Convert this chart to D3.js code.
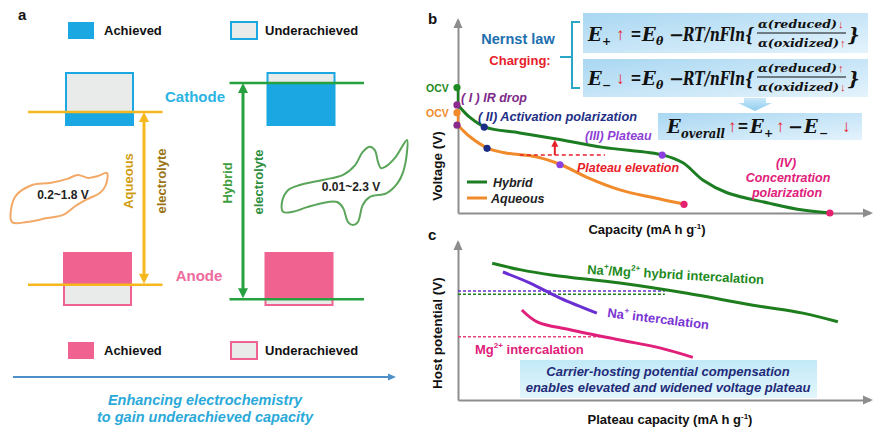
<!DOCTYPE html>
<html>
<head>
<meta charset="utf-8">
<script src="https://cdn.jsdelivr.net/npm/d3@7"></script>
<style>
  body { margin: 0; background: #fff; }
  svg { display: block; }
  text { font-family: Arial, "Liberation Sans", sans-serif; font-weight: bold; }
</style>
</head>
<body>
<script>
// ---- panel a : electrode levels (schematic potential units) ----
const electrolytes = ["Aqueous", "Hybrid"]
const cathodeLevel = [2.0, 2.28]
const anodeLevel = [0.34, 0.2]
const cvWindow = ["0.2~1.8 V", "0.01~2.3 V"]
// CV loops, [potential V, normalised current]
const aqueousCV = [[0.20,-1.0],[0.25,0.02],[0.54,0.51],[0.84,0.59],[1.13,0.76],[1.31,0.92],[1.48,0.80],[1.65,0.88],[1.80,1.0],[1.78,0.51],[1.68,0.18],[1.51,-0.02],[1.29,-0.31],[1.06,-0.71],[0.79,-0.84],[0.45,-1.0]]
const hybridCV = [[0.03,-0.69],[0.01,-0.46],[0.12,-0.18],[0.34,-0.06],[0.76,0.06],[1.13,0.18],[1.35,0.41],[1.49,0.72],[1.62,0.84],[1.71,0.76],[1.77,0.48],[1.82,0.34],[1.89,0.36],[2.08,0.58],[2.30,1.0],[2.30,0.72],[2.23,0.25],[2.13,-0.01],[1.93,-0.25],[1.62,-0.34],[1.49,-0.53],[1.40,-0.93],[1.31,-1.0],[1.22,-0.93],[1.13,-0.60],[1.02,-0.46],[0.76,-0.48],[0.47,-0.58],[0.21,-0.69]]

// ---- panel b : charge curves ----
const hybridCap = [0, 2.9, 6.6, 15.0, 23.5, 35.2, 49.8, 54.6, 59.5, 65.3, 75.7, 83.7, 90.5]
const hybridV   = [1.12, 0.99, 0.89, 0.83, 0.77, 0.68, 0.60, 0.52, 0.34, 0.21, 0.10, 0.03, 0.0]
const aqueousCap = [0, 2.9, 7.3, 11.9, 19.2, 25.0, 31.3, 39.3, 47.3, 55.1]
const aqueousV   = [0.91, 0.79, 0.67, 0.62, 0.58, 0.50, 0.37, 0.24, 0.16, 0.09]
const ocvV = [1.30, 1.04]
const plateauBase = 0.60, plateauFrom = 15.0, plateauTo = 35.7
const elevationCap = 23.5, elevationTop = 0.76

// ---- panel c : host potential ----
const hostHybridCap = [8.3, 15.0, 23.1, 39.3, 55.6, 71.6, 83.7, 92.2]
const hostHybridV   = [1.73, 1.65, 1.58, 1.48, 1.35, 1.20, 1.10, 0.99]
const hostNaCap = [10.9, 17.5, 24.8, 33.7]
const hostNaV   = [1.62, 1.48, 1.29, 1.10]
const hostMgCap = [15.5, 19.2, 27.2, 39.3, 49.0, 57.0]
const hostMgV   = [1.14, 0.99, 0.89, 0.76, 0.66, 0.54]
const hostRefV   = [1.38, 1.34, 0.80]   // Na+, hybrid, Mg2+ dashed levels
const hostRefEnd = [50.2, 50.2, 34.5]

const zip2 = (a, b) => a.map((d, i) => [d, b[i]])

const cyan = "#1ba7e1", pink = "#f0628f", grey = "#e9ebea"
const gold = "#f6b81e", green = "#27a040", axisGrey = "#8d8d8d"
const red = "#e8202a"

const svg = d3.select("body").append("svg").attr("width", 880).attr("height", 435)
const defs = svg.append("defs")

function grad(id, c1, c2, x2, y2) {
    const g = defs.append("linearGradient").attr("id", id)
        .attr("x1", 0).attr("y1", 0).attr("x2", x2).attr("y2", y2)
    g.append("stop").attr("offset", "0%").attr("stop-color", c1)
    g.append("stop").attr("offset", "100%").attr("stop-color", c2)
}
grad("eqFill", "#a9d7f2", "#e4f3fc", 1, 1)
grad("boxC", "#c2e9f7", "#e3f6fc", 0, 1)
grad("chev", "#c9e8f8", "#8fcdef", 0, 1)

function txt(parent, x, y, s, o = {}) {
    const t = parent.append("text").attr("x", x).attr("y", y)
        .attr("font-size", o.size || 13)
        .attr("fill", o.fill || "#111")
        .attr("text-anchor", o.anchor || "start")
        .text(s)
    if (o.italic) t.style("font-style", "italic")
    if (o.family) t.style("font-family", o.family)
    if (o.len) t.attr("textLength", o.len).attr("lengthAdjust", "spacingAndGlyphs")
    if (o.rotate != null) t.attr("transform", `rotate(${o.rotate},${x},${y})`)
    if (o.baseline) t.attr("dominant-baseline", o.baseline)
    return t
}

function arrowHead(parent, x, y, dir, w, l, color) {
    // dir: "up" | "down" | "right"
    let pts
    if (dir === "up") pts = [[x, y], [x - w / 2, y + l], [x + w / 2, y + l]]
    else if (dir === "down") pts = [[x, y], [x - w / 2, y - l], [x + w / 2, y - l]]
    else pts = [[x, y], [x - l, y - w / 2], [x - l, y + w / 2]]
    parent.append("path").attr("d", d3.line()(pts) + "Z").attr("fill", color)
}

/* ================= panel a ================= */
const pa = svg.append("g")
txt(pa, 18, 20, "a", { size: 15 })

const colX = d3.scalePoint().domain(electrolytes).range([99.5, 301])
const yPot = d3.scaleLinear().domain([0, 2.5]).range([320, 60])
const boxW = 67
const cathTop = 73, cathBot = 125, anTop = 253, anBot = 305
const levelColor = [gold, green]
const arrowX = [144, 243]

// legends
const legTop = [{ y: 22, stroke: cyan, fill: cyan }, { y: 22, stroke: cyan, fill: grey }]
const legBot = [{ y: 342, stroke: pink, fill: pink }, { y: 342, stroke: pink, fill: grey }]
;[legTop, legBot].forEach(leg => {
    leg.forEach((d, i) => {
        const x = i === 0 ? 68 : 231
        pa.append("rect").attr("x", x).attr("y", d.y).attr("width", 26).attr("height", 17)
            .attr("fill", d.fill).attr("stroke", d.stroke).attr("stroke-width", i === 0 ? 0 : 2)
        txt(pa, i === 0 ? 104 : 265, d.y + 13, i === 0 ? "Achieved" : "Underachieved", { size: 13 })
    })
})

electrolytes.forEach((e, i) => {
    const cx = colX(e)
    const cl = yPot(cathodeLevel[i]), al = yPot(anodeLevel[i])
    const ax = cx - 2
    // cathode box
    pa.append("rect").attr("x", cx - boxW / 2).attr("y", cathTop).attr("width", boxW)
        .attr("height", cathBot - cathTop).attr("fill", grey).attr("stroke", cyan).attr("stroke-width", 2)
    pa.append("rect").attr("x", cx - boxW / 2).attr("y", cl).attr("width", boxW)
        .attr("height", cathBot - cl).attr("fill", cyan)
    // anode box
    pa.append("rect").attr("x", ax - boxW / 2).attr("y", anTop).attr("width", boxW)
        .attr("height", anBot - anTop).attr("fill", grey).attr("stroke", pink).attr("stroke-width", 2)
    pa.append("rect").attr("x", ax - boxW / 2).attr("y", anTop).attr("width", boxW)
        .attr("height", al - anTop).attr("fill", pink)
    // level lines
    pa.append("line").attr("x1", cx - 71.5).attr("x2", cx + 63).attr("y1", cl).attr("y2", cl)
        .attr("stroke", levelColor[i]).attr("stroke-width", 2.5)
    pa.append("line").attr("x1", cx - 71.5).attr("x2", cx + 63).attr("y1", al).attr("y2", al)
        .attr("stroke", levelColor[i]).attr("stroke-width", 2.5)
    // double arrow
    const x = arrowX[i]
    pa.append("line").attr("x1", x).attr("x2", x).attr("y1", cl + 8).attr("y2", al - 8)
        .attr("stroke", levelColor[i]).attr("stroke-width", 3)
    arrowHead(pa, x, cl, "up", 10, 10, levelColor[i])
    arrowHead(pa, x, al - 1, "down", 10, 10, levelColor[i])
})

txt(pa, 195, 102, "Cathode", { size: 15, fill: "#2bb3e3", anchor: "middle" })
txt(pa, 199, 281, "Anode", { size: 15, fill: "#ee6a9c", anchor: "middle" })

txt(pa, 128, 181, "Aqueous", { size: 13, fill: "#cf9d12", anchor: "middle", rotate: -90, baseline: "central" })
txt(pa, 161, 181, "electrolyte", { size: 13, fill: "#9a7414", anchor: "middle", rotate: -90, baseline: "central" })
txt(pa, 227, 183, "Hybrid", { size: 13, fill: "#3f9e3f", anchor: "middle", rotate: -90, baseline: "central" })
txt(pa, 258, 182, "electrolyte", { size: 13, fill: "#2f8f3f", anchor: "middle", rotate: -90, baseline: "central" })

// CV loops
const cvX = [d3.scaleLinear().domain([0.2, 1.8]).range([12, 107]),
             d3.scaleLinear().domain([0.01, 2.3]).range([282, 407])]
const cvY = [d3.scaleLinear().domain([-1, 1]).range([222, 173]),
             d3.scaleLinear().domain([-1, 1]).range([225, 140])]
const cvColor = ["#f2a968", "#5aa55a"]
;[aqueousCV, hybridCV].forEach((loop, i) => {
    const line = d3.line().x(d => cvX[i](d[0])).y(d => cvY[i](d[1])).curve(d3.curveCatmullRomClosed.alpha(0.5))
    pa.append("path").attr("d", line(loop)).attr("fill", "none")
        .attr("stroke", cvColor[i]).attr("stroke-width", 2)
})
txt(pa, 63, 199, cvWindow[0], { size: 12, anchor: "middle", fill: "#222" })
txt(pa, 351, 191, cvWindow[1], { size: 12, anchor: "middle", fill: "#222" })

// bottom arrow + caption
pa.append("line").attr("x1", 13).attr("x2", 389).attr("y1", 377).attr("y2", 377)
    .attr("stroke", "#4d90c8").attr("stroke-width", 2)
arrowHead(pa, 396, 377, "right", 7, 8, "#4d90c8")
txt(pa, 205, 405, "Enhancing electrochemistry", { size: 14.5, italic: true, fill: "#2aa9d9", anchor: "middle" })
txt(pa, 205, 422, "to gain underachieved capacity", { size: 14.5, italic: true, fill: "#2aa9d9", anchor: "middle" })

/* ================= panel b ================= */
const pb = svg.append("g")
txt(pb, 428, 24, "b", { size: 15 })
const xB = d3.scaleLinear().domain([0, 100]).range([458, 870])
const yB = d3.scaleLinear().domain([0, 2]).range([213, 20])

pb.append("g").attr("transform", `translate(0,${yB(0)})`)
    .call(d3.axisBottom(xB).tickValues([]).tickSizeOuter(0))
    .call(g => g.select(".domain").attr("stroke", axisGrey).attr("stroke-width", 2))
pb.append("g").attr("transform", `translate(${xB(0)},0)`)
    .call(d3.axisLeft(yB).tickValues([]).tickSizeOuter(0))
    .call(g => g.select(".domain").attr("stroke", axisGrey).attr("stroke-width", 2))
arrowHead(pb, xB(0), yB(2) - 2, "up", 9, 10, axisGrey)
arrowHead(pb, xB(100) + 3, yB(0), "right", 9, 10, axisGrey)

txt(pb, 437, 166, "Voltage (V)", { size: 13.5, anchor: "middle", rotate: -90, baseline: "central" })
const capB = txt(pb, 647, 234, "Capacity (mA h g", { size: 13, anchor: "middle" })
capB.append("tspan").attr("font-size", 8).attr("dy", -5).text("-1")
capB.append("tspan").attr("dy", 5).text(")")

const curveB = d3.line().x(d => xB(d[0])).y(d => yB(d[1])).curve(d3.curveCatmullRom.alpha(0.5))
const hyb = zip2(hybridCap, hybridV), aq = zip2(aqueousCap, aqueousV)
const greenB = "#1d7d22", orangeB = "#f08a2a"

// IR drop segments
pb.append("line").attr("x1", xB(0)).attr("x2", xB(0)).attr("y1", yB(ocvV[0])).attr("y2", yB(hybridV[0]))
    .attr("stroke", greenB).attr("stroke-width", 2.5)
pb.append("line").attr("x1", xB(0)).attr("x2", xB(0)).attr("y1", yB(ocvV[1])).attr("y2", yB(aqueousV[0]))
    .attr("stroke", orangeB).attr("stroke-width", 2.5)

pb.append("path").attr("d", curveB(aq)).attr("fill", "none").attr("stroke", orangeB).attr("stroke-width", 3)
pb.append("path").attr("d", curveB(hyb)).attr("fill", "none").attr("stroke", greenB).attr("stroke-width", 3)

// plateau elevation marker
pb.append("line").attr("x1", xB(plateauFrom)).attr("x2", xB(plateauTo))
    .attr("y1", yB(plateauBase)).attr("y2", yB(plateauBase))
    .attr("stroke", red).attr("stroke-width", 1.5).attr("stroke-dasharray", "4,3")
pb.append("line").attr("x1", xB(elevationCap)).attr("x2", xB(elevationCap))
    .attr("y1", yB(plateauBase)).attr("y2", yB(elevationTop) + 6)
    .attr("stroke", red).attr("stroke-width", 2)
arrowHead(pb, xB(elevationCap), yB(elevationTop), "up", 7, 7, red)

// dots
const dotData = [
    [0, ocvV[0], "#1e8a22"], [0, ocvV[1], orangeB],
    [hybridCap[0], hybridV[0], "#8a2a8c"], [aqueousCap[0], aqueousV[0], "#8a2a8c"],
    [hybridCap[2], hybridV[2], "#1b2c86"], [aqueousCap[2], aqueousV[2], "#1b2c86"],
    [hybridCap[6], hybridV[6], "#8c3fe0"], [aqueousCap[5], aqueousV[5], "#8c3fe0"],
    [hybridCap[12], hybridV[12], "#e5206e"], [aqueousCap[9], aqueousV[9], "#e5206e"]
]
pb.selectAll(".dot").data(dotData).join("circle")
    .attr("cx", d => xB(d[0]) - 1).attr("cy", d => yB(d[1])).attr("r", 3.6).attr("fill", d => d[2])

txt(pb, 426, 92, "OCV", { size: 10.5, fill: "#1e8a22" })
txt(pb, 426, 117, "OCV", { size: 10.5, fill: "#f08a2a" })

txt(pb, 461, 102, "( I ) IR drop", { size: 12.5, italic: true, fill: "#7d2a8a" })
txt(pb, 478, 121, "( II) Activation polarization", { size: 12.5, italic: true, fill: "#1e2f86", len: 159 })
txt(pb, 585, 140, "(III) Plateau", { size: 12.5, italic: true, fill: "#8e3fd6" })
txt(pb, 577, 172, "Plateau elevation", { size: 12.5, italic: true, fill: red })
txt(pb, 786, 167, "(IV)", { size: 12.5, italic: true, fill: "#e0207a", anchor: "middle" })
txt(pb, 788, 182, "Concentration", { size: 12.5, italic: true, fill: "#e0207a", anchor: "middle" })
txt(pb, 787, 197, "polarization", { size: 12.5, italic: true, fill: "#e0207a", anchor: "middle" })

// legend
pb.append("line").attr("x1", 467).attr("x2", 487).attr("y1", 182).attr("y2", 182).attr("stroke", greenB).attr("stroke-width", 3)
pb.append("line").attr("x1", 467).attr("x2", 487).attr("y1", 198).attr("y2", 198).attr("stroke", orangeB).attr("stroke-width", 3)
txt(pb, 493, 187, "Hybrid", { size: 12.5, italic: true, fill: "#222" })
txt(pb, 491, 203, "Aqueous", { size: 12.5, italic: true, fill: "#222" })

// Nernst law block
txt(pb, 518, 44, "Nernst law", { size: 14.5, fill: "#1d6fae", anchor: "middle" })
txt(pb, 520, 65, "Charging:", { size: 13, fill: red, anchor: "middle" })
pb.append("path").attr("d", "M580,22 H572 V88 H580 M572,57 H560")
    .attr("fill", "none").attr("stroke", "#2aa6c6").attr("stroke-width", 2)

pb.append("rect").attr("x", 583).attr("y", 13).attr("width", 285).attr("height", 40).attr("fill", "url(#eqFill)")
pb.append("rect").attr("x", 583).attr("y", 59).attr("width", 285).attr("height", 38).attr("fill", "url(#eqFill)")
pb.append("rect").attr("x", 658).attr("y", 113).attr("width", 204).attr("height", 27).attr("fill", "url(#eqFill)")
pb.append("path").attr("d", "M744,98 H766 V103 H772 L755,111 L738,103 H744 Z").attr("fill", "url(#chev)")

const serif = "'DejaVu Serif', serif"
function nernst(base, sub, arrowMain, arrowNum, arrowDen) {
    const m = { size: 18, italic: true, family: serif }
    txt(pb, 588, base, "E", m)
    txt(pb, 602, base + 4, sub, { size: 11, family: serif })
    txt(pb, 616, base - 1, arrowMain, { size: 17, fill: red })
    txt(pb, 631, base - 1, "=", { size: 17 })
    txt(pb, 642, base, "E", m)
    txt(pb, 656, base + 4, "θ", { size: 11, italic: true, family: serif })
    txt(pb, 669, base, "−", { size: 18, family: serif })
    txt(pb, 683, base, "RT/nFln{", Object.assign({ len: 71 }, m))
    txt(pb, 758, base - 13, "α(reduced)", { size: 11, italic: true, family: serif, len: 79 })
    txt(pb, 838, base - 13, arrowNum, { size: 11, fill: red })
    pb.append("line").attr("x1", 757).attr("x2", 846).attr("y1", base - 8).attr("y2", base - 8)
        .attr("stroke", "#111").attr("stroke-width", 1)
    txt(pb, 758, base + 6, "α(oxidized)", { size: 11, italic: true, family: serif, len: 81 })
    txt(pb, 840, base + 6, arrowDen, { size: 11, fill: red })
    txt(pb, 848, base, "}", m)
}
nernst(41, "+", "↑", "↓", "↑")
nernst(85, "−", "↓", "↑", "↓")

// E overall
const m3 = { size: 18, italic: true, family: serif }
txt(pb, 667, 133, "E", m3)
txt(pb, 681, 138, "overall", { size: 12.5, italic: true, family: serif, len: 44 })
txt(pb, 728, 132, "↑", { size: 17, fill: red })
txt(pb, 738, 132, "=", { size: 17 })
txt(pb, 750, 133, "E", m3)
txt(pb, 764, 137, "+", { size: 11, family: serif })
txt(pb, 776, 132, "↑", { size: 17, fill: red })
txt(pb, 788, 133, "−", { size: 18, family: serif })
txt(pb, 804, 133, "E", m3)
txt(pb, 819, 137, "−", { size: 11, family: serif })
txt(pb, 842, 132, "↓", { size: 17, fill: red })

/* ================= panel c ================= */
const pc = svg.append("g")
txt(pc, 428, 240, "c", { size: 15 })
const xC = d3.scaleLinear().domain([0, 100]).range([458, 870])
const yC = d3.scaleLinear().domain([0, 2]).range([400, 242])

pc.append("g").attr("transform", `translate(0,${yC(0)})`)
    .call(d3.axisBottom(xC).tickValues([]).tickSizeOuter(0))
    .call(g => g.select(".domain").attr("stroke", axisGrey).attr("stroke-width", 2))
pc.append("g").attr("transform", `translate(${xC(0)},0)`)
    .call(d3.axisLeft(yC).tickValues([]).tickSizeOuter(0))
    .call(g => g.select(".domain").attr("stroke", axisGrey).attr("stroke-width", 2))
arrowHead(pc, xC(0), yC(2) - 2, "up", 9, 10, axisGrey)
arrowHead(pc, xC(100) + 3, yC(0), "right", 9, 10, axisGrey)

txt(pc, 437, 333, "Host potential (V)", { size: 13.5, anchor: "middle", rotate: -90, baseline: "central" })
const capC = txt(pc, 670, 424, "Plateau capacity (mA h g", { size: 13, anchor: "middle" })
capC.append("tspan").attr("font-size", 8).attr("dy", -5).text("-1")
capC.append("tspan").attr("dy", 5).text(")")

const refColor = ["#6a2fd2", "#1f7f1f", "#e8407c"]
hostRefV.forEach((v, i) => {
    pc.append("line").attr("x1", xC(0)).attr("x2", xC(hostRefEnd[i]))
        .attr("y1", yC(v)).attr("y2", yC(v))
        .attr("stroke", refColor[i]).attr("stroke-width", 1.5).attr("stroke-dasharray", "3,2")
})

const curveC = d3.line().x(d => xC(d[0])).y(d => yC(d[1])).curve(d3.curveCatmullRom.alpha(0.5))
pc.append("path").attr("d", curveC(zip2(hostHybridCap, hostHybridV))).attr("fill", "none")
    .attr("stroke", "#1e7e1e").attr("stroke-width", 3)
pc.append("path").attr("d", curveC(zip2(hostNaCap, hostNaV))).attr("fill", "none")
    .attr("stroke", "#6a2fd2").attr("stroke-width", 3)
pc.append("path").attr("d", curveC(zip2(hostMgCap, hostMgV))).attr("fill", "none")
    .attr("stroke", "#e0207a").attr("stroke-width", 3)

function ionLabel(x, y, parts, color, rot) {
    const t = pc.append("text").attr("x", x).attr("y", y).attr("font-size", 13).attr("fill", color)
        .attr("transform", `rotate(${rot},${x},${y})`)
    parts.forEach(p => {
        if (p[1]) t.append("tspan").attr("font-size", 8).attr("dy", -6).text(p[0])
        else t.append("tspan").attr("dy", p[2] ? 6 : 0).text(p[0])
    })
}
ionLabel(587, 274, [["Na"], ["+", true], ["/Mg", false, true], ["2+", true], [" hybrid intercalation", false, true]], "#1e8a1e", 3.3)
ionLabel(607, 317, [["Na"], ["+", true], ["  intercalation", false, true]], "#7a35d4", 7)
ionLabel(475, 354, [["Mg"], ["2+", true], [" intercalation", false, true]], "#e0207a", 0)

pc.append("rect").attr("x", 520).attr("y", 360).attr("width", 297).attr("height", 38).attr("fill", "url(#boxC)")
txt(pc, 668, 376, "Carrier-hosting potential compensation", { size: 13, italic: true, fill: "#1f2b78", anchor: "middle" })
txt(pc, 668, 392, "enables elevated and widened voltage plateau", { size: 13, italic: true, fill: "#1f2b78", anchor: "middle" })
</script>
</body>
</html>
